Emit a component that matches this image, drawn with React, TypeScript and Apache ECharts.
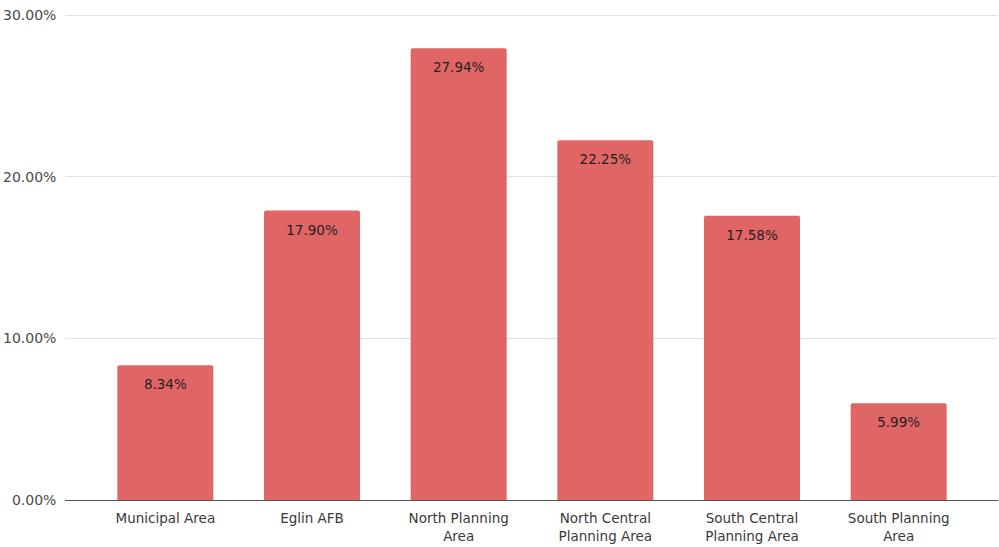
import React, { useEffect, useRef } from "react";
import * as echarts from "echarts";

const categories = [
  "Municipal Area",
  "Eglin AFB",
  "North Planning\nArea",
  "North Central\nPlanning Area",
  "South Central\nPlanning Area",
  "South Planning\nArea",
];
const shares = [8.34, 17.9, 27.94, 22.25, 17.58, 5.99];
const yTicks = { min: 0, max: 30, interval: 10 };

const FONT = "DejaVu Sans";

export default function App() {
  const ref = useRef<HTMLDivElement>(null);

  useEffect(() => {
    if (!ref.current) return;
    const chart = echarts.init(ref.current, undefined, { renderer: "svg" });
    chart.setOption({
      animation: false,
      backgroundColor: "#ffffff",
      textStyle: { fontFamily: FONT },
      grid: [
        { left: 64, right: 1, top: 15, bottom: 47 },
        { left: 92, right: 27, top: 15, bottom: 47 },
      ],
      xAxis: [
        {
          type: "value",
          gridIndex: 0,
          min: 0,
          max: 1,
          axisLine: { show: true, lineStyle: { color: "#555", width: 1 } },
          axisTick: { show: false },
          axisLabel: { show: false },
          splitLine: { show: false },
        },
        {
          type: "category",
          gridIndex: 1,
          data: categories,
          axisLine: { show: false },
          axisTick: { show: false },
          axisLabel: {
            interval: 0,
            margin: 9,
            color: "#3a3a3a",
            fontFamily: FONT,
            fontSize: 13.5,
            lineHeight: 18,
          },
        },
      ],
      yAxis: [
        {
          type: "value",
          gridIndex: 0,
          min: yTicks.min,
          max: yTicks.max,
          interval: yTicks.interval,
          axisLine: { show: false },
          axisTick: { show: false },
          axisLabel: {
            margin: 9,
            color: "#4a4a4a",
            fontFamily: FONT,
            fontSize: 14,
            formatter: (v: number) => v.toFixed(2) + "%",
          },
          splitLine: { lineStyle: { color: "#e0e0e0", width: 1 } },
        },
        {
          type: "value",
          gridIndex: 1,
          min: yTicks.min,
          max: yTicks.max,
          show: false,
          splitLine: { show: false },
        },
      ],
      series: [
        {
          type: "bar",
          xAxisIndex: 1,
          yAxisIndex: 1,
          data: shares,
          barWidth: 96,
          itemStyle: { color: "#e06666", borderRadius: [2, 2, 0, 0] },
          label: {
            show: true,
            position: "insideTop",
            distance: 12,
            color: "#1f1f1f",
            fontFamily: FONT,
            fontSize: 13.5,
            formatter: (p: any) => p.value.toFixed(2) + "%",
          },
        },
      ],
    });
    return () => chart.dispose();
  }, []);

  return (
    <div
      ref={ref}
      style={{ position: "fixed", left: 0, top: 0, width: 999, height: 547 }}
    />
  );
}
